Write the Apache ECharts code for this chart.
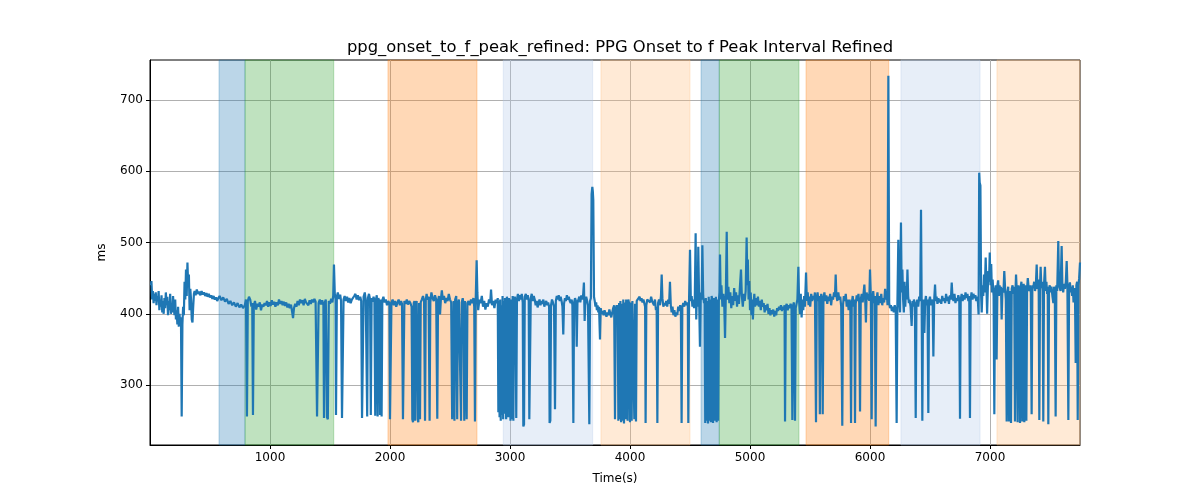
<!DOCTYPE html>
<html>
<head>
<meta charset="utf-8">
<script src="https://cdn.jsdelivr.net/npm/echarts@6/dist/echarts.min.js"></script>
<style>html,body{margin:0;padding:0;background:#fff}#c{width:1200px;height:500px}</style>
</head>
<body>
<div id="c"></div>
<script>
const chartTitle = 'ppg_onset_to_f_peak_refined: PPG Onset to f Peak Interval Refined';
const xName = 'Time(s)';
const yName = 'ms';
const xTicks = [1000, 2000, 3000, 4000, 5000, 6000, 7000];
const yTicks = [300, 400, 500, 600, 700];

// [time (s), interval (ms)]
const samples = [
[8,440],[12,446],[18,420],[24,432],[30,415],[36,428],[42,418],[48,430],[54,412],[60,425],[66,418],[72,432],[78,405],[84,420],[90,410],[96,426],[102,402],[108,418],[114,400],[120,422],[126,408],[132,430],[138,412],[144,424],[150,398],[156,418],[162,405],[168,428],[174,400],[180,415],[186,402],[192,425],[198,410],[204,398],[210,420],[216,392],[222,405],[228,385],[234,410],[240,382],[246,400],[252,385],[258,395],[264,256],[270,385],[276,410],[282,398],[288,445],[294,420],[300,462],[306,425],[312,472],[318,440],[324,455],[330,405],[336,435],[342,420],[348,392],[354,388],[360,410],[366,428],[372,432],[380,426],[390,434],[400,428],[410,431],[420,426],[430,432],[440,427],[450,430],[460,425],[470,429],[480,424],[490,428],[500,423],[510,426],[520,421],[530,425],[540,420],[550,423],[560,418],[570,422],
[580,425],[595,419],[610,423],[625,417],[640,421],[655,414],[670,418],[685,412],[700,416],[715,410],[730,415],[745,409],[760,413],[775,408],[790,412],[800,420],[808,256],[815,418],[825,424],[835,420],[845,410],[852,415],[858,258],[865,412],[875,418],[885,406],[895,414],[905,410],[915,416],[925,405],[935,413],[945,410],[955,415],
[965,412],[975,418],[985,410],[995,416],[1005,411],[1015,419],[1025,413],[1035,417],[1045,410],[1055,416],[1065,412],[1075,420],[1085,414],[1095,418],[1105,412],[1115,417],[1125,411],[1135,416],[1145,409],[1155,414],[1165,408],[1175,413],[1185,402],[1192,394],[1200,408],[1210,414],[1220,410],[1230,418],[1240,412],[1250,420],[1260,415],[1270,419],[1280,412],[1290,421],[1300,416],[1310,418],[1320,412],[1330,419],[1340,414],[1350,420],[1360,416],[1370,421],[1380,417],
[1392,256],[1398,258],[1405,415],[1415,420],[1425,413],[1435,419],[1445,412],[1450,254],[1457,416],[1465,420],[1475,255],[1482,252],[1490,418],[1500,414],[1510,421],[1520,416],[1527,426],[1533,469],[1540,428],[1546,420],[1550,258],[1557,424],[1565,430],[1575,421],[1585,427],[1592,418],[1600,254],[1606,252],[1613,420],[1622,425],[1632,418],[1642,424],[1652,416],[1662,422],[1672,415],[1682,420],[1692,418],[1702,425],[1712,428],[1722,420],[1732,426],[1742,419],[1752,424],[1760,418],[1767,254],[1773,256],[1780,424],[1790,430],[1798,418],[1806,420],[1810,256],[1816,422],[1825,428],[1834,420],[1840,258],[1847,422],[1855,417],[1863,424],[1870,418],[1877,257],[1883,420],[1890,426],[1897,256],[1903,422],[1910,418],[1917,258],[1923,420],[1930,256],[1936,419],[1945,424],[1955,416],[1965,420],[1975,412],[1985,418],
[1995,415],[2000,252],[2006,250],[2012,416],[2022,420],[2032,412],[2042,418],[2052,410],[2062,416],[2072,420],[2082,412],[2092,418],[2100,414],[2108,252],[2114,250],[2120,418],[2130,414],[2140,420],[2150,413],[2160,418],[2170,415],[2180,410],[2186,252],[2192,248],[2198,415],[2204,418],[2208,250],[2214,412],[2222,418],[2230,252],[2236,248],[2242,415],[2250,252],[2256,416],[2265,420],[2275,425],[2284,418],[2292,250],[2298,420],[2305,428],[2313,420],[2322,424],[2330,250],[2336,416],[2345,430],[2355,422],[2365,418],[2375,426],[2385,420],[2394,253],[2400,418],[2408,425],[2417,399],[2424,420],[2432,433],[2440,420],[2450,425],[2460,415],[2470,422],[2480,418],[2490,428],[2500,420],[2510,416],[2518,252],[2524,250],[2530,418],[2537,250],[2543,420],[2552,425],[2560,252],[2566,414],[2574,420],[2582,418],[2592,250],[2598,416],[2606,422],[2612,415],[2619,250],[2625,418],[2632,420],[2639,252],[2645,415],[2655,418],[2665,412],[2675,420],[2685,415],[2695,422],[2702,410],[2708,249],[2714,418],[2722,475],[2728,430],
[2735,405],[2745,420],[2755,415],[2765,425],[2775,410],[2785,418],[2795,406],[2805,415],[2815,410],[2825,420],[2835,415],[2842,434],[2850,412],[2860,418],[2870,408],[2880,420],[2890,415],[2898,422],[2903,262],[2908,418],[2913,255],[2918,420],[2923,250],[2928,412],[2933,258],[2938,425],[2943,252],[2948,418],[2953,260],[2958,422],
[2963,420],[2968,252],[2974,424],[2980,418],[2986,255],[2992,422],[2998,416],[3004,250],[3010,420],[3016,252],[3022,425],[3028,250],[3034,418],[3040,424],[3046,416],[3052,254],[3058,420],[3066,428],[3074,418],[3082,426],[3090,420],[3098,428],[3106,416],[3111,242],[3117,245],[3123,424],[3132,428],[3140,420],[3148,426],[3156,418],[3161,252],[3167,250],[3173,422],[3181,428],[3190,418],[3198,425],[3206,420],[3214,412],[3222,418],[3230,409],[3238,415],[3246,420],[3254,412],[3262,418],[3270,414],[3278,420],[3286,410],[3294,415],[3302,418],[3310,412],[3318,416],[3326,410],[3330,247],[3336,250],[3342,412],[3350,420],[3358,416],[3367,410],[3375,266],[3382,418],[3390,425],[3398,420],[3406,426],[3414,418],[3422,424],[3430,418],[3437,410],[3444,371],[3450,414],[3458,422],[3466,418],[3474,426],[3482,420],[3490,424],[3498,418],[3506,415],[3514,420],[3520,412],[3528,247],[3534,416],[3542,422],[3550,418],[3556,354],[3562,415],[3570,420],[3578,424],[3586,416],[3594,426],[3602,420],[3610,428],[3616,444],[3622,390],[3628,418],[3635,424],[3643,418],[3650,412],[3656,410],[3661,245],[3667,418],[3674,422],[3680,568],[3686,578],[3690,572],[3694,560],[3700,424],[3706,418],[3712,410],[3718,416],[3724,405],[3730,412],[3736,402],[3742,410],[3750,364],[3756,408],[3764,400],[3772,404],[3780,398],[3788,405],[3796,400],[3804,396],[3812,402],[3820,398],[3828,406],[3836,400],[3844,395],[3852,402],[3860,408],[3868,412],[3875,252],[3881,405],[3890,412],[3898,405],[3903,250],[3909,415],[3914,252],[3920,418],[3926,248],[3932,414],[3938,250],[3944,420],[3950,246],[3956,416],[3962,252],[3968,420],
[3975,418],[3980,250],[3986,420],[3993,414],[4000,248],[4006,416],[4014,250],[4020,418],[4028,420],[4036,252],[4042,414],[4050,249],[4056,418],[4064,420],[4072,416],[4080,424],[4088,418],[4096,422],[4104,416],[4112,420],[4120,418],[4126,410],[4130,247],[4136,412],[4144,420],[4152,418],[4160,422],[4168,416],[4176,424],[4184,418],[4192,420],[4200,412],[4208,420],[4216,405],[4222,410],[4228,247],[4234,415],[4242,420],[4250,412],[4258,425],[4264,455],[4270,422],[4278,410],[4286,415],[4294,412],[4302,418],[4310,410],[4318,420],[4326,414],[4333,445],[4340,412],[4347,402],[4354,410],[4362,398],[4370,405],[4378,396],[4386,402],[4394,398],[4402,410],[4410,404],[4418,412],[4424,405],[4430,247],[4436,410],[4444,415],[4452,410],[4460,418],[4468,412],[4476,416],[4482,410],[4486,247],[4492,418],[4500,490],[4507,418],[4514,425],[4520,410],[4527,420],[4534,408],[4540,422],[4547,513],[4552,392],[4558,430],[4564,410],[4569,494],[4576,420],[4583,354],[4590,430],[4597,420],[4603,496],[4610,425],[4617,415],[4622,420],[4627,247],[4632,422],[4638,250],[4644,418],[4650,246],[4656,424],[4662,250],[4668,420],[4674,248],[4680,425],[4686,420],[4692,247],[4698,422],[4704,418],[4710,250],[4716,424],[4722,248],[4728,420],[4734,250],[4740,418],[4746,430],[4750,483],[4756,420],[4762,440],[4770,410],[4778,428],[4785,415],[4792,366],[4799,430],[4806,515],[4812,420],[4820,438],[4828,415],[4836,430],[4844,408],[4852,425],[4860,412],[4868,436],[4876,418],[4884,430],[4892,410],[4900,426],[4908,414],[4916,438],[4925,462],[4932,425],[4940,410],[4948,428],[4956,418],[4964,432],
[4972,507],[4978,440],[4982,476],[4988,420],[4994,446],[5000,405],[5006,430],[5012,398],[5018,420],[5024,392],[5030,415],[5036,428],[5042,410],[5050,422],[5058,412],[5066,424],[5074,410],[5082,418],[5090,405],[5098,420],[5106,410],[5114,415],[5122,402],[5130,412],[5138,405],[5146,414],[5154,400],[5162,408],[5170,398],[5178,405],[5186,400],[5194,406],[5202,396],[5210,404],[5218,398],[5226,408],[5234,404],[5242,410],[5250,406],[5258,412],[5266,404],[5274,410],[5282,406],[5288,412],[5292,249],[5298,410],[5306,414],[5314,405],[5322,412],[5330,408],[5338,414],[5346,410],[5353,251],[5359,412],[5366,416],[5375,250],[5381,408],[5388,414],[5395,420],[5403,466],[5409,418],[5416,400],[5423,428],[5430,395],[5437,420],[5444,405],[5451,425],[5458,410],[5467,458],[5474,418],[5481,430],[5488,412],[5495,424],[5502,410],[5510,428],[5518,418],[5526,425],[5534,420],[5541,430],[5550,248],[5556,422],[5563,430],[5570,418],[5576,425],[5582,259],[5588,420],[5594,428],[5600,418],[5606,259],[5612,422],[5620,430],[5628,418],[5636,426],[5644,414],[5652,424],[5660,418],[5668,428],[5676,412],[5684,424],[5692,420],[5700,430],[5708,424],[5714,455],[5720,425],[5728,418],[5736,430],[5744,420],[5752,424],[5760,410],[5769,243],[5775,412],[5782,425],[5790,418],[5798,428],[5806,410],[5814,420],[5822,405],[5830,420],[5836,412],[5842,247],[5848,415],[5856,425],[5864,410],[5870,420],[5875,247],[5881,414],[5889,426],[5896,418],[5904,428],[5910,415],[5917,263],[5923,420],[5931,428],[5939,416],[5947,430],[5953,441],[5960,420],
[5966,388],[5972,430],[5980,420],[5988,428],[5994,418],[6000,462],[6007,425],[6014,252],[6020,420],[6027,432],[6034,415],[6040,425],[6047,242],[6054,418],[6062,430],[6070,412],[6078,425],[6086,415],[6094,428],[6102,412],[6110,422],[6118,416],[6126,435],[6134,420],[6140,430],[6146,412],[6153,734],[6160,415],[6167,408],[6174,412],[6182,404],[6190,410],[6198,402],[6206,412],[6214,406],[6222,247],[6228,410],[6236,504],[6242,420],[6250,402],[6258,528],[6264,430],[6270,462],[6276,420],[6282,402],[6288,445],[6294,410],[6300,439],[6306,420],[6312,462],[6318,425],[6324,415],[6330,420],[6338,410],[6347,383],[6354,418],[6360,410],[6366,420],[6374,414],[6381,254],[6387,412],[6394,420],[6402,410],[6410,424],[6418,418],[6425,546],[6430,430],[6436,250],[6442,415],[6448,420],[6453,373],[6460,418],[6466,425],[6472,412],[6479,420],[6486,261],[6492,418],[6500,424],[6508,412],[6515,420],[6522,416],[6528,340],[6535,420],[6542,441],[6548,418],[6555,424],[6562,414],[6570,422],[6578,416],[6586,420],[6594,414],[6602,425],[6610,418],[6618,422],[6626,415],[6634,428],[6642,418],[6650,424],[6658,414],[6666,426],[6674,420],[6681,444],[6688,422],[6696,418],[6704,428],[6712,415],[6720,422],[6728,418],[6736,426],[6744,420],[6750,253],[6756,420],[6764,428],[6772,418],[6780,426],[6788,420],[6796,430],[6804,422],[6812,428],[6820,418],[6827,425],[6833,254],[6839,420],[6846,430],[6854,420],[6862,428],[6870,422],[6878,426],[6886,418],[6894,424],[6900,415],[6905,399],[6910,598],[6914,584],[6920,580],[6926,425],[6931,402],[6938,440],[6944,425],[6950,455],[6956,430],[6964,479],[6970,440],[6976,400],
[6980,401],[6986,460],[6992,445],[6998,486],[7004,440],[7010,470],[7016,430],[7022,448],[7030,425],[7036,259],[7042,432],[7048,440],[7055,336],[7062,440],[7068,447],[7074,425],[7080,440],[7086,430],[7092,438],[7097,392],[7104,436],[7112,430],[7119,460],[7126,435],[7132,420],[7139,249],[7145,430],[7152,438],[7158,249],[7164,425],[7170,432],[7175,247],[7181,435],[7188,440],[7195,428],[7202,438],[7208,249],[7214,440],[7217,455],[7222,436],[7230,248],[7236,440],[7243,432],[7250,247],[7256,438],[7262,445],[7269,249],[7275,430],[7281,442],[7286,248],[7292,436],[7298,440],[7303,250],[7309,435],[7315,450],[7320,440],[7326,432],[7333,440],[7340,430],[7347,259],[7353,440],[7360,436],[7368,445],[7375,432],[7382,440],[7389,469],[7395,435],[7402,448],[7406,430],[7411,251],[7417,440],[7422,466],[7428,436],[7434,445],[7439,432],[7444,249],[7450,440],[7458,466],[7464,432],[7470,445],[7476,428],[7481,438],[7486,245],[7492,435],[7498,440],[7505,430],[7512,438],[7520,425],[7528,415],[7534,438],[7540,432],[7547,256],[7553,440],[7560,432],[7569,502],[7575,440],[7582,438],[7588,432],[7597,495],[7603,440],[7610,430],[7618,442],[7625,435],[7632,445],[7639,474],[7645,440],[7653,251],[7659,438],[7666,444],[7672,430],[7678,438],[7684,425],[7690,440],[7696,416],[7702,436],[7708,430],[7714,331],[7720,440],[7726,445],[7731,251],[7737,440],[7743,450],[7750,472]
];

// shaded intervals (time in s)
const bandStart = [575, 792, 1983, 2944, 3758, 4592, 4744, 5467, 6258, 7058];
const bandEnd   = [792, 1531, 2725, 3689, 4500, 4744, 5408, 6156, 6917, 7750];
const bandKind  = ['blue', 'green', 'orange', 'lightblue', 'lightorange', 'blue', 'green', 'orange', 'lightblue', 'lightorange'];

const xMin = 0, xMax = 7750, yMin = 216, yMax = 756;

const kindColor = {
  blue: 'rgba(31,119,180,0.3)',
  green: 'rgba(44,160,44,0.3)',
  orange: 'rgba(255,127,14,0.3)',
  lightblue: 'rgba(174,199,232,0.3)',
  lightorange: 'rgba(255,187,120,0.3)'
};

const areas = bandStart.map((s, i) => [
  { xAxis: s, itemStyle: { color: kindColor[bandKind[i]], borderColor: kindColor[bandKind[i]], borderWidth: 1 } },
  { xAxis: bandEnd[i] }
]);

const font = 'DejaVu Sans';
const plain = v => String(v);
const chart = echarts.init(document.getElementById('c'), null, { renderer: 'canvas' });
chart.setOption({
  animation: false,
  backgroundColor: '#fff',
  title: {
    text: chartTitle,
    left: 615, top: 35, textAlign: 'center',
    textStyle: { fontFamily: font, fontSize: 16.4, fontWeight: 'normal', color: '#000' }
  },
  grid: { left: 150, right: 120, top: 60, bottom: 55, show: true, borderColor: '#000', borderWidth: 1, backgroundColor: 'transparent' },
  xAxis: {
    type: 'value', min: xMin, max: xMax, interval: 1000,
    name: xName, nameLocation: 'middle', nameGap: 28,
    nameTextStyle: { fontFamily: font, fontSize: 12, color: '#000' },
    axisLine: { show: true, lineStyle: { color: '#000' } },
    axisTick: { show: true, length: 4, customValues: xTicks, lineStyle: { color: '#000' } },
    axisLabel: { fontFamily: font, fontSize: 12, color: '#000', margin: 7, customValues: xTicks, formatter: plain },
    splitLine: { show: true, lineStyle: { color: '#b0b0b0', width: 1 } }
  },
  yAxis: {
    type: 'value', min: yMin, max: yMax, splitNumber: 5,
    name: yName, nameLocation: 'middle', nameGap: 42,
    nameTextStyle: { fontFamily: font, fontSize: 12, color: '#000' },
    axisLine: { show: true, lineStyle: { color: '#000' } },
    axisTick: { show: true, length: 4, customValues: yTicks, lineStyle: { color: '#000' } },
    axisLabel: { fontFamily: font, fontSize: 12, color: '#000', margin: 7, customValues: yTicks, formatter: plain },
    splitLine: { show: true, lineStyle: { color: '#b0b0b0', width: 1 } }
  },
  series: [{
    type: 'line',
    data: samples,
    showSymbol: false,
    symbol: 'none',
    sampling: null,
    clip: true,
    lineStyle: { color: '#1f77b4', width: 2.2 },
    itemStyle: { color: '#1f77b4' },
    markArea: { silent: true, data: areas }
  }]
});
</script>
</body>
</html>
